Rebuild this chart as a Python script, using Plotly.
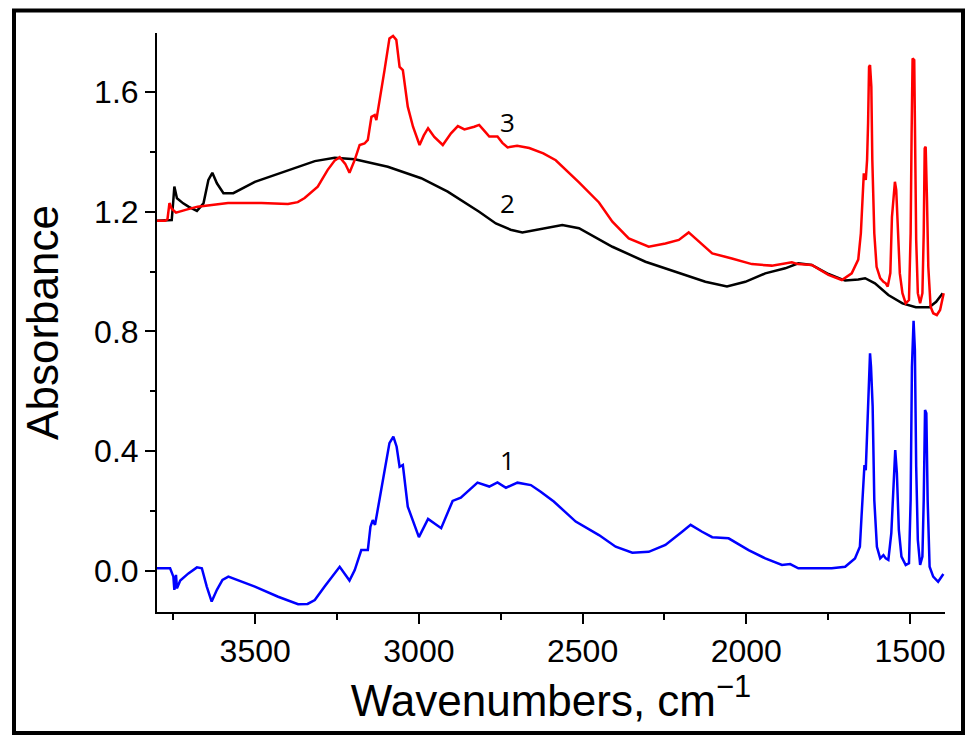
import plotly.graph_objects as go

# ---- data (wavenumber, absorbance) ----
wn3 = [3800, 3775, 3768, 3762, 3755, 3742, 3710, 3676, 3583, 3481, 3400, 3370, 3349, 3309, 3279, 3258,
       3242, 3225, 3212, 3196, 3181, 3166, 3156, 3145, 3135, 3130, 3105, 3090, 3079, 3069, 3059, 3049,
       3034, 3018, 2998, 2985, 2972, 2953, 2927, 2902, 2881, 2861, 2831, 2816, 2800, 2785, 2760, 2745,
       2729, 2700, 2663, 2620, 2582, 2550, 2511, 2450, 2409, 2359, 2298, 2247, 2206, 2176, 2145, 2104,
       2044, 1983, 1922, 1861, 1842, 1800, 1749, 1708, 1678, 1658, 1650, 1645, 1641, 1635, 1631, 1628,
       1625, 1622, 1618, 1615, 1609, 1602, 1591, 1581, 1574, 1568, 1560, 1555, 1549, 1546, 1542, 1537,
       1531, 1523, 1513, 1503, 1498, 1495, 1492, 1487, 1484, 1481, 1476, 1469, 1462, 1458, 1455, 1452,
       1448, 1444, 1437, 1429, 1418, 1408, 1397]
abs3 = [1.170, 1.170, 1.175, 1.229, 1.210, 1.197, 1.207, 1.217, 1.229, 1.229, 1.226, 1.232, 1.246, 1.284, 1.339, 1.370,
        1.382, 1.360, 1.330, 1.373, 1.423, 1.428, 1.440, 1.517, 1.523, 1.506, 1.673, 1.779, 1.787, 1.774, 1.684, 1.673,
        1.551, 1.484, 1.423, 1.455, 1.479, 1.450, 1.423, 1.462, 1.486, 1.475, 1.484, 1.490, 1.470, 1.451, 1.451, 1.430,
        1.415, 1.420, 1.413, 1.395, 1.372, 1.340, 1.298, 1.231, 1.167, 1.111, 1.083, 1.094, 1.106, 1.131, 1.100, 1.061,
        1.044, 1.025, 1.020, 1.031, 1.025, 1.022, 0.989, 0.972, 0.994, 1.040, 1.128, 1.273, 1.328, 1.306, 1.373, 1.495,
        1.684, 1.690, 1.618, 1.373, 1.128, 1.016, 0.978, 0.966, 0.961, 0.950, 0.995, 1.183, 1.284, 1.300, 1.273, 1.150,
        0.994, 0.928, 0.894, 0.905, 1.128, 1.462, 1.712, 1.707, 1.462, 1.106, 0.928, 0.894, 0.928, 1.128, 1.412, 1.417,
        1.239, 1.016, 0.883, 0.861, 0.855, 0.872, 0.928]

wn2 = [3800, 3755, 3750, 3747, 3739, 3720, 3704, 3678, 3658, 3643, 3631, 3617, 3597, 3567, 3501, 3399,
       3318, 3257, 3196, 3095, 2993, 2912, 2816, 2765, 2720, 2684, 2633, 2562, 2511, 2460, 2409, 2308,
       2206, 2125, 2059, 2003, 1942, 1881, 1841, 1800, 1749, 1698, 1658, 1637, 1607, 1566, 1523, 1482,
       1441, 1420, 1400]
abs2 = [1.170, 1.172, 1.240, 1.284, 1.245, 1.228, 1.217, 1.203, 1.228, 1.306, 1.330, 1.295, 1.262, 1.262, 1.300, 1.339,
        1.369, 1.380, 1.375, 1.350, 1.312, 1.267, 1.200, 1.161, 1.140, 1.131, 1.141, 1.156, 1.145, 1.115, 1.083, 1.033,
        0.996, 0.966, 0.950, 0.966, 0.994, 1.011, 1.028, 1.022, 0.992, 0.970, 0.974, 0.978, 0.961, 0.922, 0.894, 0.881,
        0.881, 0.899, 0.928]

wn1 = [3800, 3760, 3750, 3747, 3742, 3739, 3729, 3704, 3678, 3663, 3648, 3633, 3617, 3600, 3582, 3540,
       3501, 3430, 3369, 3340, 3318, 3288, 3242, 3212, 3196, 3176, 3156, 3148, 3141, 3134, 3105, 3090,
       3078, 3068, 3059, 3049, 3034, 3013, 3000, 2972, 2932, 2897, 2872, 2821, 2785, 2760, 2734, 2699,
       2658, 2628, 2588, 2521, 2450, 2399, 2348, 2298, 2247, 2196, 2170, 2135, 2104, 2054, 1993, 1942,
       1891, 1866, 1841, 1739, 1698, 1668, 1653, 1648, 1642, 1639, 1635, 1629, 1625, 1622, 1619, 1614,
       1609, 1601, 1591, 1581, 1574, 1566, 1557, 1550, 1545, 1540, 1534, 1526, 1513, 1503, 1498, 1494,
       1489, 1485, 1481, 1476, 1469, 1462, 1458, 1454, 1450, 1446, 1440, 1429, 1414, 1398]
abs1 = [0.009, 0.009, -0.019, -0.063, -0.013, -0.058, -0.032, -0.008, 0.012, 0.009, -0.052, -0.102, -0.063, -0.030, -0.019, -0.035,
        -0.052, -0.086, -0.111, -0.110, -0.097, -0.052, 0.014, -0.032, 0.003, 0.070, 0.070, 0.148, 0.170, 0.154, 0.337, 0.427,
        0.449, 0.415, 0.348, 0.354, 0.215, 0.148, 0.113, 0.174, 0.143, 0.234, 0.245, 0.295, 0.282, 0.296, 0.278, 0.295,
        0.287, 0.265, 0.232, 0.165, 0.120, 0.081, 0.061, 0.064, 0.087, 0.131, 0.154, 0.131, 0.113, 0.109, 0.070, 0.042,
        0.020, 0.023, 0.009, 0.009, 0.014, 0.042, 0.081, 0.181, 0.315, 0.354, 0.337, 0.527, 0.694, 0.727, 0.682, 0.549,
        0.237, 0.081, 0.042, 0.053, 0.042, 0.037, 0.126, 0.315, 0.404, 0.326, 0.137, 0.048, 0.020, 0.026, 0.237, 0.682,
        0.836, 0.738, 0.348, 0.104, 0.020, 0.048, 0.237, 0.538, 0.527, 0.237, 0.014, -0.019, -0.036, -0.010]

curve_labels = ["1", "2", "3"]
label_wn = [2729, 2730, 2730]
label_abs = [0.371, 1.229, 1.50]

x_range = [3800, 1393]
y_range = [-0.137, 1.797]

fig = go.Figure()
fig.add_trace(go.Scatter(x=wn1, y=abs1, mode="lines", line=dict(color="#0000FF", width=2.5), showlegend=False))
fig.add_trace(go.Scatter(x=wn2, y=abs2, mode="lines", line=dict(color="#000000", width=2.5), showlegend=False))
fig.add_trace(go.Scatter(x=wn3, y=abs3, mode="lines", line=dict(color="#FF0000", width=2.5), showlegend=False))

for t, xv, yv in zip(curve_labels, label_wn, label_abs):
    fig.add_annotation(x=xv, y=yv, text=t, showarrow=False, xanchor="center", yanchor="middle",
                       font=dict(family="Open Sans", size=26, color="black"))

axis_font = dict(family="Liberation Sans, Arial", size=32, color="black")
title_font = dict(family="Liberation Sans, Arial", size=44, color="black")

fig.update_xaxes(range=x_range, showgrid=False, zeroline=False, showline=True, linecolor="black", linewidth=2,
                 ticks="outside", ticklen=10, tickwidth=2, tickcolor="black", tick0=0, dtick=500,
                 tickfont=axis_font, minor=dict(ticks="outside", ticklen=6, tickwidth=2, tickcolor="black", dtick=250, tick0=0),
                 title=dict(text="Wavenumbers, cm<sup>−1</sup>", font=title_font, standoff=10))
fig.update_yaxes(range=y_range, showgrid=False, zeroline=False, showline=True, linecolor="black", linewidth=2,
                 ticks="outside", ticklen=10, tickwidth=2, tickcolor="black", tick0=0, dtick=0.4, tickformat=".1f",
                 tickfont=axis_font, minor=dict(ticks="outside", ticklen=5, tickwidth=2, tickcolor="black", dtick=0.2, tick0=0),
                 title=dict(text="Absorbance", font=title_font, standoff=22))

# outer frame around the whole picture
fig.add_shape(type="rect", xref="paper", yref="paper",
              x0=(14 - 157) / 788, x1=(963 - 157) / 788, y0=(612 - 733) / 579, y1=(612 - 10.5) / 579,
              line=dict(color="black", width=4), fillcolor="rgba(0,0,0,0)", layer="above")

fig.update_layout(width=966, height=735, margin=dict(l=157, r=21, t=33, b=123, autoexpand=False),
                  paper_bgcolor="white", plot_bgcolor="white")

fig.write_html("out.html")
